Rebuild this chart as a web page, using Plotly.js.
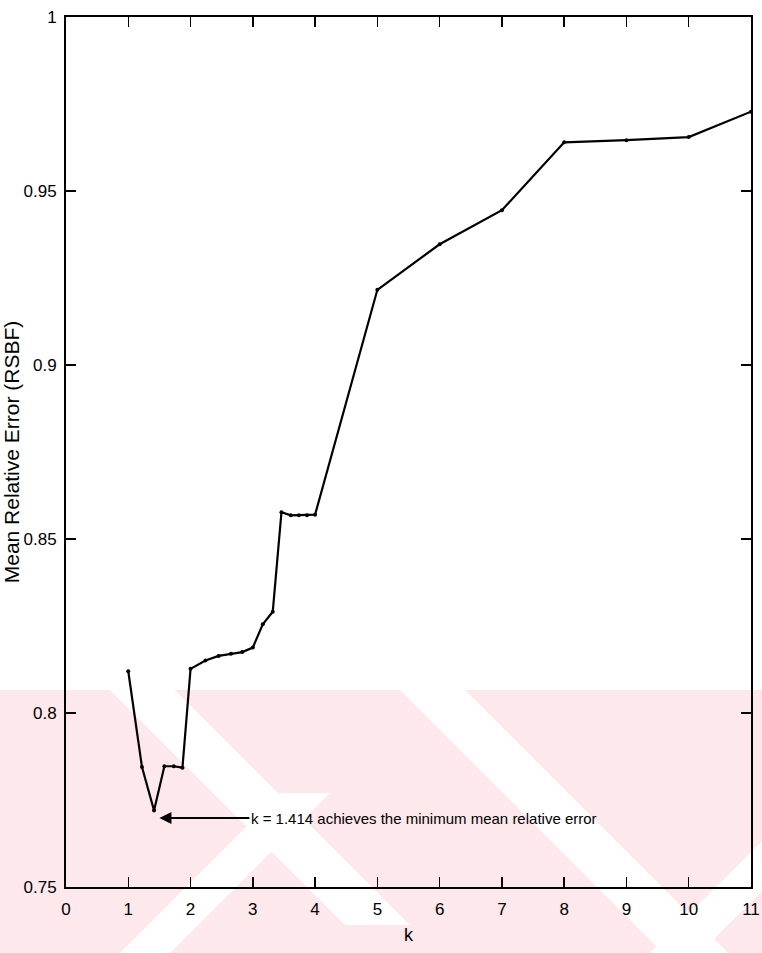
<!DOCTYPE html>
<html>
<head>
<meta charset="utf-8">
<script src="https://cdn.plot.ly/plotly-3.0.1.min.js"></script>
<style>html,body{margin:0;padding:0;background:#fff;}#chart{width:762px;height:953px;}</style>
</head>
<body>
<div id="chart"></div>
<script>
// k values
var kValues = [1, 1.22, 1.414, 1.58, 1.73, 1.87, 2, 2.24, 2.45, 2.65, 2.83, 3, 3.16, 3.32, 3.46, 3.61, 3.74, 3.87, 4, 5, 6, 7, 8, 9, 10, 11];
// Mean relative error (RSBF)
var meanRelErr = [0.812, 0.7845, 0.772, 0.7847, 0.7847, 0.7843, 0.8127, 0.8151, 0.8164, 0.817, 0.8175, 0.8188, 0.8255, 0.8291, 0.8577, 0.8568, 0.8568, 0.8568, 0.857, 0.9216, 0.9347, 0.9445, 0.964, 0.9646, 0.9655, 0.9728];
var xTicks = [0,1,2,3,4,5,6,7,8,9,10,11];
var yTicks = [0.75,0.8,0.85,0.9,0.95,1];
var yTickText = ['0.75','0.8','0.85','0.9','0.95','1'];

var W = 762, H = 953, L = 66, R = 11, T = 17, B = 66;
var pw = W - L - R, ph = H - T - B;
function px(x){ return (x - L) / pw; }
function py(y){ return (H - B - y) / ph; }
function poly(pts){
  return 'M' + pts.map(function(p){ return px(p[0]) + ',' + py(p[1]); }).join(' L') + ' Z';
}
var pink = 'rgb(253,232,236)';
var shapes = [
  {type:'path', xref:'paper', yref:'paper', layer:'below', line:{width:0}, fillcolor:pink,
   path: poly([[0,690],[762,690],[762,953],[0,953]])},
  {type:'path', xref:'paper', yref:'paper', layer:'below', line:{width:0}, fillcolor:'#ffffff',
   path: poly([[110,690],[175,690],[410,925],[345,925]])},
  {type:'path', xref:'paper', yref:'paper', layer:'below', line:{width:0}, fillcolor:'#ffffff',
   path: poly([[120,953],[170,953],[330,793],[280,793]])},
  {type:'path', xref:'paper', yref:'paper', layer:'below', line:{width:0}, fillcolor:'#ffffff',
   path: poly([[400,690],[465,690],[728,953],[663,953]])},
  {type:'path', xref:'paper', yref:'paper', layer:'below', line:{width:0}, fillcolor:'#ffffff',
   path: poly([[650,953],[700,953],[762,891],[762,841]])}
];

var trace = {
  x: kValues, y: meanRelErr, type:'scatter', mode:'lines+markers',
  line:{color:'#000', width:2.2}, marker:{color:'#000', size:4},
  showlegend:false, hoverinfo:'skip', cliponaxis:false
};

var tickFam = '"Liberation Sans", Arial, sans-serif';
var layout = {
  width: W, height: H,
  margin:{l:L, r:R, t:T, b:B, pad:0},
  paper_bgcolor:'rgba(0,0,0,0)', plot_bgcolor:'rgba(0,0,0,0)',
  showlegend:false,
  shapes: shapes,
  xaxis:{
    range:[0,11], tickvals:xTicks, ticktext:xTicks.map(String),
    ticks:'inside', ticklen:10, tickwidth:1.5, tickcolor:'#000',
    showline:true, linecolor:'#000', linewidth:2, mirror:'ticks',
    showgrid:false, zeroline:false, ticklabelstandoff:6, ticklabeloverflow:'allow',
    tickfont:{family:tickFam, size:17, color:'#000'},
    title:{text:'k', font:{family:tickFam, size:18, color:'#000'}, standoff:10}
  },
  yaxis:{
    range:[0.75,1], tickvals:yTicks, ticktext:yTickText,
    ticks:'inside', ticklen:10, tickwidth:1.5, tickcolor:'#000',
    showline:true, linecolor:'#000', linewidth:2, mirror:'ticks',
    showgrid:false, zeroline:false, ticklabelstandoff:4, ticklabeloverflow:'allow',
    tickfont:{family:tickFam, size:17, color:'#000'},
    title:{text:'Mean Relative Error (RSBF)', font:{family:'"Liberation Sans", Arial, sans-serif', size:21, color:'#000'}, standoff:3}
  },
  annotations:[{
    x:1.5, y:0.7698, xref:'x', yref:'y',
    text:'k = 1.414 achieves the minimum mean relative error',
    showarrow:true, arrowhead:2, arrowsize:1.2, arrowwidth:2, arrowcolor:'#000',
    ax:90, ay:0, xanchor:'left', yanchor:'middle',
    font:{family:tickFam, size:15, color:'#000'}
  }]
};
Plotly.newPlot('chart', [trace], layout, {displayModeBar:false, staticPlot:true});
</script>
</body>
</html>
